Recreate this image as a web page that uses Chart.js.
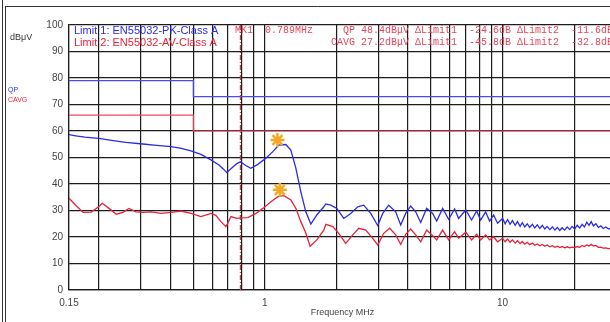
<!DOCTYPE html>
<html>
<head>
<meta charset="utf-8">
<script src="https://cdn.jsdelivr.net/npm/chart.js@4"></script>
<style>
  html, body { margin: 0; padding: 0; background: #fff; }
  #wrap { width: 610px; height: 322px; overflow: hidden; position: relative; }
  canvas { display: block; }
</style>
</head>
<body>
<div id="wrap"><canvas id="emi" width="630" height="322"></canvas></div>
<script>
// QP trace (MHz / dBuV)
const qpFreq = [0.15, 0.16, 0.175, 0.2, 0.23, 0.26, 0.307, 0.35, 0.403, 0.44, 0.489, 0.538, 0.593, 0.641, 0.67, 0.692,
  0.71, 0.734, 0.76, 0.789, 0.832, 0.873, 0.934, 1.01, 1.08, 1.145, 1.225, 1.286, 1.35, 1.417, 1.487, 1.561,
  1.654, 1.77, 1.805, 1.894, 2.007, 2.148, 2.298, 2.459, 2.606, 2.789, 2.984, 3.132, 3.319, 3.551, 3.728, 3.912,
  4.106, 4.31, 4.524, 4.794, 5.08, 5.281, 5.596, 5.93, 6.284, 6.533, 7.0, 7.408, 7.778, 8.085, 8.484, 8.818,
  9.166, 9.528, 10, 10.25, 10.5, 10.75, 11.0, 11.3, 11.55, 11.85, 12.1, 12.4, 12.7, 13.0, 13.35, 13.65, 14.0,
  14.35, 14.7, 15.05, 15.4, 15.8, 16.2, 16.6, 17.0, 17.4, 17.8, 18.25, 18.7, 19.15, 19.6, 20.1, 20.6, 21.1,
  21.6, 22.1, 22.6, 23.1, 23.6, 24.1, 24.7, 25.3, 25.9, 26.5, 27.2, 27.9, 28.6, 29.3, 30];
const qpLevel = [58.6, 58.2, 57.7, 57.2, 56.4, 55.7, 55.1, 54.6, 54.1, 53.5, 52.5, 51.2, 49.1, 47.2, 45.6, 44.3,
  45.3, 46.4, 47.6, 48.4, 47.0, 45.9, 47.4, 49.7, 52.2, 54.7, 54.9, 52.8, 46.0, 37.0, 29.5, 24.9,
  28.3, 31.4, 32.5, 32.0, 30.8, 27.0, 28.9, 31.4, 32.0, 28.9, 24.3, 28.9, 32.0, 29.5, 24.5, 28.9,
  31.7, 29.5, 25.5, 30.8, 28.9, 26.0, 30.8, 26.7, 30.6, 27.0, 30.2, 26.4, 29.8, 26.4, 29.5, 26.0,
  28.3, 25.2, 27.0, 25.0, 26.6, 24.8, 26.2, 24.4, 25.8, 24.0, 25.4, 23.8, 25.0, 23.6, 24.8, 23.4, 24.6,
  23.2, 24.4, 23.0, 24.0, 22.8, 23.8, 22.6, 23.6, 22.5, 23.5, 22.6, 23.8, 22.8, 24.0, 23.0, 24.4, 23.4,
  24.8, 23.8, 25.6, 24.4, 25.8, 24.2, 25.0, 23.6, 24.2, 23.2, 23.8, 23.0, 23.4, 22.9, 23.2];

// CAVG trace
const avFreq = [0.15, 0.16, 0.172, 0.186, 0.2, 0.207, 0.221, 0.237, 0.253, 0.268, 0.287, 0.307, 0.332, 0.366, 0.403,
  0.444, 0.489, 0.538, 0.593, 0.622, 0.653, 0.686, 0.72, 0.763, 0.789, 0.848, 0.917, 0.981, 1.06, 1.134, 1.202,
  1.286, 1.35, 1.417, 1.487, 1.55, 1.654, 1.77, 1.805, 1.931, 2.046, 2.189, 2.343, 2.483, 2.657, 2.843, 2.984,
  3.162, 3.351, 3.551, 3.728, 3.912, 4.106, 4.31, 4.524, 4.794, 5.08, 5.281, 5.596, 5.93, 6.284, 6.533, 7.0,
  7.408, 7.778, 8.085, 8.484, 8.818, 9.166, 9.528, 10, 10.25, 10.5, 10.75, 11.0, 11.3, 11.55, 11.85, 12.1,
  12.4, 12.7, 13.0, 13.35, 13.65, 14.0, 14.35, 14.7, 15.05, 15.4, 15.8, 16.2, 16.6, 17.0, 17.4, 17.8, 18.25,
  18.7, 19.15, 19.6, 20.1, 20.6, 21.1, 21.6, 22.1, 22.6, 23.1, 23.6, 24.1, 24.7, 25.3, 25.9, 26.5, 27.2, 27.9,
  28.6, 29.3, 30];
const avLevel = [34.6, 32.0, 29.3, 29.4, 31.4, 32.7, 30.8, 28.6, 29.3, 30.8, 29.5, 29.3, 29.5, 28.9, 29.3,
  29.8, 28.9, 27.7, 28.9, 28.2, 25.8, 23.9, 27.7, 27.0, 27.2, 27.3, 28.9, 30.8, 33.3, 35.2, 35.6,
  34.0, 30.8, 25.8, 21.5, 16.5, 18.9, 22.6, 24.8, 23.9, 21.4, 17.6, 20.8, 23.3, 22.6, 19.5, 17.0,
  21.4, 23.3, 20.8, 17.2, 21.0, 23.0, 20.8, 18.2, 22.6, 20.5, 18.9, 22.6, 18.9, 22.0, 19.5, 21.8,
  18.9, 21.0, 18.9, 20.8, 18.9, 20.1, 18.2, 19.5, 18.2, 19.2, 18.0, 18.9, 17.7, 18.6, 17.5, 18.3,
  17.3, 18.0, 17.1, 17.7, 16.9, 17.4, 16.7, 17.2, 16.5, 17.0, 16.3, 16.7, 16.1, 16.5, 16.0, 16.4, 15.9,
  16.3, 15.9, 16.2, 16.0, 16.4, 16.1, 16.8, 16.4, 17.0, 16.6, 17.2, 16.6, 16.8, 16.1, 16.2, 15.8, 15.9, 15.6,
  15.7, 15.5, 15.6];

// EN55032 Class A limits
const limitFreq = [0.15, 0.5, 0.5, 30];
const pkLimit = [79, 79, 73, 73];
const avLimit = [66, 66, 60, 60];

// final measurement points and marker
const finalFreq = [1.13, 1.156];
const finalLevel = [56.6, 37.8];
const mk1Freq = 0.789;

const gridFreqs = [0.15, 0.2, 0.3, 0.4, 0.5, 0.6, 0.7, 0.8, 0.9, 1, 2, 3, 4, 5, 6, 7, 8, 9, 10, 20, 30];
const xLabels = [0.15, 1, 10, 30];
const yTicks = [0, 10, 20, 30, 40, 50, 60, 70, 80, 90, 100];

const pts = (xs, ys) => xs.map((x, i) => ({ x: x, y: ys[i] }));

const BLUE = "#2b2be6";
const RED = "#e4233c";
const GRID = "#1c1c1c";

// header text, side labels and page frame
const decor = {
  id: "decor",
  afterDraw(chart) {
    const c = chart.ctx;
    c.save();
    c.textBaseline = "middle";
    c.textAlign = "left";

    c.font = "11px 'Liberation Sans', Arial, sans-serif";
    c.fillStyle = BLUE;
    c.fillText("Limit 1: EN55032-PK-Class A", 74, 31);
    c.fillStyle = RED;
    c.fillText("Limit 2: EN55032-AV-Class A", 74, 43);

    c.font = "10px 'Liberation Mono', monospace";
    c.fillStyle = "#e8455a";
    c.fillText("MK1  0.789MHz", 235, 30);
    c.fillText("  QP 48.4dBμV ΔLimit1  -24.6dB ΔLimit2  -11.6dB", 331, 30);
    c.fillText("CAVG 27.2dBμV ΔLimit1  -45.8dB ΔLimit2  -32.8dB", 331, 42);

    c.font = "9px 'Liberation Sans', Arial, sans-serif";
    c.fillStyle = "#333";
    c.fillText("dBμV", 10, 38);

    c.font = "7px 'Liberation Sans', Arial, sans-serif";
    c.fillStyle = BLUE;
    c.fillText("QP", 8, 90);
    c.fillStyle = RED;
    c.fillText("CAVG", 8, 100);

    c.strokeStyle = "#333";
    c.lineWidth = 1;
    c.beginPath();
    c.moveTo(2.5, 0); c.lineTo(2.5, 322);
    c.moveTo(5.5, 6); c.lineTo(5.5, 322);
    c.moveTo(5, 6.5); c.lineTo(630, 6.5);
    c.stroke();
    c.restore();
  }
};

new Chart(document.getElementById("emi"), {
  type: "line",
  data: {
    datasets: [
      { data: pts(finalFreq, finalLevel), showLine: false, pointStyle: "star", pointRadius: 7,
        borderColor: "#f4a820", backgroundColor: "#f7c64a", pointBorderWidth: 2.5 },
      { data: pts(qpFreq, qpLevel), borderColor: BLUE, borderWidth: 1.3 },
      { data: pts(avFreq, avLevel), borderColor: RED, borderWidth: 1.3 },
      { data: [{ x: mk1Freq, y: 0 }, { x: mk1Freq, y: 100 }], borderColor: "#c8404a",
        borderWidth: 1.2, borderDash: [5, 2, 1, 2] },
      { data: pts(limitFreq, pkLimit), borderColor: "#4a4af0", borderWidth: 1.2 },
      { data: pts(limitFreq, avLimit), borderColor: "#ea4a5a", borderWidth: 1.2 }
    ]
  },
  options: {
    responsive: false,
    animation: false,
    layout: { padding: { top: 25, right: 14, left: 0, bottom: 0 } },
    elements: { point: { radius: 0 }, line: { tension: 0 } },
    plugins: { legend: { display: false }, tooltip: { enabled: false } },
    scales: {
      x: {
        type: "logarithmic",
        min: 0.15,
        max: 30,
        afterBuildTicks: s => { s.ticks = gridFreqs.map(v => ({ value: v })); },
        afterFit: s => { s.height = 32; },
        grid: { color: GRID, lineWidth: 1.2, drawTicks: false },
        border: { color: GRID, width: 1.2 },
        ticks: {
          autoSkip: false, maxRotation: 0, padding: 7, color: "#444",
          font: { size: 10, family: "'Liberation Sans', Arial, sans-serif" },
          callback: v => (xLabels.includes(v) ? String(v) : "")
        },
        title: {
          display: true, text: "Frequency MHz", color: "#444", padding: { top: 0 },
          font: { size: 9, family: "'Liberation Sans', Arial, sans-serif" }
        }
      },
      y: {
        min: 0,
        max: 100,
        afterBuildTicks: s => { s.ticks = yTicks.map(v => ({ value: v })); },
        afterFit: s => { s.width = 69; },
        grid: { color: GRID, lineWidth: 1.2, drawTicks: false },
        border: { color: GRID, width: 1.2 },
        ticks: { padding: 6, color: "#444", font: { size: 10, family: "'Liberation Sans', Arial, sans-serif" } }
      }
    }
  },
  plugins: [decor]
});
</script>
</body>
</html>
